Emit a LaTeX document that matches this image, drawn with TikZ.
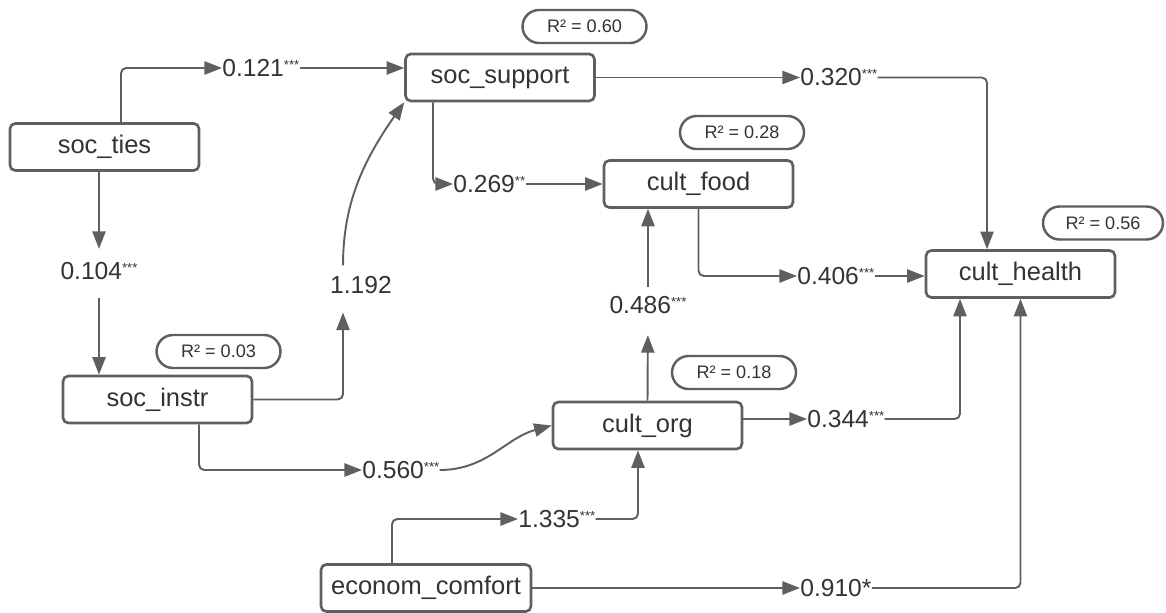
\documentclass[tikz,border=0pt]{standalone}
\usepackage{fontspec}
\setmainfont{Liberation Sans}
\usepackage{xcolor}
\usetikzlibrary{arrows.meta,positioning,calc}
\definecolor{edgegray}{HTML}{5F5F5F}
\definecolor{textgray}{HTML}{333333}
\newcommand{\stars}[1]{\raisebox{4pt}{\fontsize{7.5}{8}\selectfont #1}}

\begin{document}
\begin{tikzpicture}[x=0.02cm,y=-0.02cm,>={Triangle[length=10pt,width=7.5pt]},font=\fontsize{14}{16}\selectfont]
\tikzstyle{var}=[draw=edgegray,line width=1.5pt,rounded corners=3pt,minimum width=3.78cm,minimum height=0.94cm,text=textgray,font=\fontsize{14.5}{17}\selectfont]
\tikzstyle{rsq}=[draw=edgegray,line width=1.4pt,rounded corners=0.33cm,minimum width=2.48cm,minimum height=0.66cm,text=textgray,font=\fontsize{10.3}{12}\selectfont]
\tikzstyle{coef}=[inner sep=0pt,text=textgray]
\tikzstyle{link}=[->,color=edgegray,line width=1.1pt,rounded corners=3pt]
\useasboundingbox (0,0) rectangle (1166,612);
% variables
\node[var] (ties) at (104.5,147) {soc\_ties};
\node[var] (sup) at (500,77.5) {soc\_support};
\node[var] (food) at (698.5,184) {cult\_food};
\node[var] (health) at (1020.5,274) {cult\_health};
\node[var] (instr) at (157.5,399.5) {soc\_instr};
\node[var] (org) at (647.5,425.5) {cult\_org};
\node[var,minimum width=4.2cm] (econ) at (426,588) {econom\_comfort};
% explained variance
\node[rsq] (rsup) at (584.5,26.5) {R² = 0.60};
\node[rsq] (rfood) at (742,132.5) {R² = 0.28};
\node[rsq,minimum width=2.4cm] (rhealth) at (1103,223) {R² = 0.56};
\node[rsq] (rinstr) at (218.5,351.5) {R² = 0.03};
\node[rsq] (rorg) at (734,372.5) {R² = 0.18};
% path coefficients
\node[coef,anchor=west] (c121) at (222,68) {0.121\stars{***}};
\node[coef] (c104) at (99,271) {0.104\stars{***}};
\node[coef] (c1192) at (361,285) {1.192};
\node[coef,anchor=west] (c269) at (453,184) {0.269\stars{**}};
\node[coef,anchor=west] (c320) at (800,77.5) {0.320\stars{***}};
\node[coef,anchor=west] (c406) at (797,276) {0.406\stars{***}};
\node[coef] (c486) at (648,305) {0.486\stars{***}};
\node[coef,anchor=west] (c344) at (807,419) {0.344\stars{***}};
\node[coef,anchor=west] (c560) at (362,470) {0.560\stars{***}};
\node[coef,anchor=west] (c1335) at (518,519) {1.335\stars{***}};
\node[coef,anchor=west] (c910) at (800,588) {0.910*};
% paths
\draw[link] ([xshift=0.33cm]ties.north) |- (c121.west);
\draw[link] (c121.east) -- (c121.east -| sup.west);
\draw[link,shorten >=7.4pt] (ties.south -| c104.north) -- (c104.north);
\draw[link,shorten <=10pt] (c104.south) -- (c104.south |- instr.north);
\draw[link,shorten >=10.5pt] (instr.east) -| ([xshift=-0.36cm]c1192.south);
\draw[link,shorten <=6pt] ([xshift=-0.36cm]c1192.north) to[out=90,in=-125] (sup.south west);
\draw[link] ([xshift=-1.34cm]sup.south) |- (c269.west);
\draw[link] (c269.east) -- (c269.east -| food.west);
\draw[link] (sup.east) -- (c320.west);
\draw[link] (c320.east) -| ([xshift=-0.67cm]health.north);
\draw[link] (food.south) |- (c406.west);
\draw[link] (c406.east) -- (c406.east -| health.west);
\draw[link,shorten >=12pt] (org.north) -- (c486.south);
\draw[link,shorten <=5pt] (c486.north) -- (c486.north |- food.south);
\draw[link] (org.east |- c344.west) -- (c344.west);
\draw[link] (c344.east) -| ([xshift=-1.21cm]health.south);
\draw[link] ([xshift=0.83cm]instr.south) |- (c560.west);
\draw[link] (c560.east) to[out=0,in=195] (org.west);
\draw[link] ([xshift=-0.68cm]econ.north) |- (c1335.west);
\draw[link] (c1335.east) -| ([xshift=-0.19cm]org.south);
\draw[link] (econ.east) -- (c910.west);
\draw[link] (c910.east) -| (health.south);
\end{tikzpicture}
\end{document}
